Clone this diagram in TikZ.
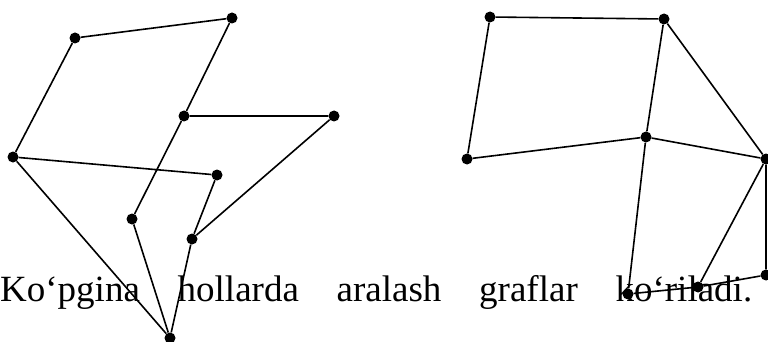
\documentclass[tikz,border=0pt]{standalone}
\usepackage{fontspec}
\setmainfont{Liberation Serif}
\begin{document}
\begin{tikzpicture}[x=1pt,y=-1pt,
  dot/.style={circle,fill=black,inner sep=0pt,minimum size=11pt},
  edge/.style={draw=black,line width=1.6pt},
  txt/.style={inner sep=0pt,anchor=base west,font=\fontsize{37}{44}\selectfont}]
\useasboundingbox (0,0) rectangle (768,342);
% text
\node[txt] (line1) at (0,301) {\hbox to 752pt{Ko‘pgina\hfill hollarda\hfill aralash\hfill graflar\hfill ko‘riladi.}};
% left graph
\node[dot] (A) at (75,38) {};
\node[dot] (B) at (232,18) {};
\node[dot] (C) at (184,116) {};
\node[dot] (D) at (334,116) {};
\node[dot] (E) at (13,157) {};
\node[dot] (F) at (217,175) {};
\node[dot] (G) at (132,219) {};
\node[dot] (H) at (192,239) {};
\node[dot] (I) at (170,338) {};
\draw[edge] (A) -- (B) (B) -- (C) (C) -- (D) (A) -- (E) (E) -- (F)
  (C) -- (G) (G) -- (I) (E) -- (I) (F) -- (H) (D) -- (H) (H) -- (I);
% right graph
\node[dot] (P) at (490,17) {};
\node[dot] (Q) at (664,19) {};
\node[dot] (R) at (646,137) {};
\node[dot] (S) at (467,159) {};
\node[dot] (T) at (766,159) {};
\node[dot] (U) at (628,294) {};
\node[dot] (V) at (698,287) {};
\node[dot] (W) at (766,275) {};
\draw[edge] (P) -- (Q) (P) -- (S) (Q) -- (R) (Q) -- (T) (R) -- (S) (R) -- (T)
  (R) -- (U) (T) -- (V) (T) -- (W) (U) -- (V) (V) -- (W);
\end{tikzpicture}
\end{document}
